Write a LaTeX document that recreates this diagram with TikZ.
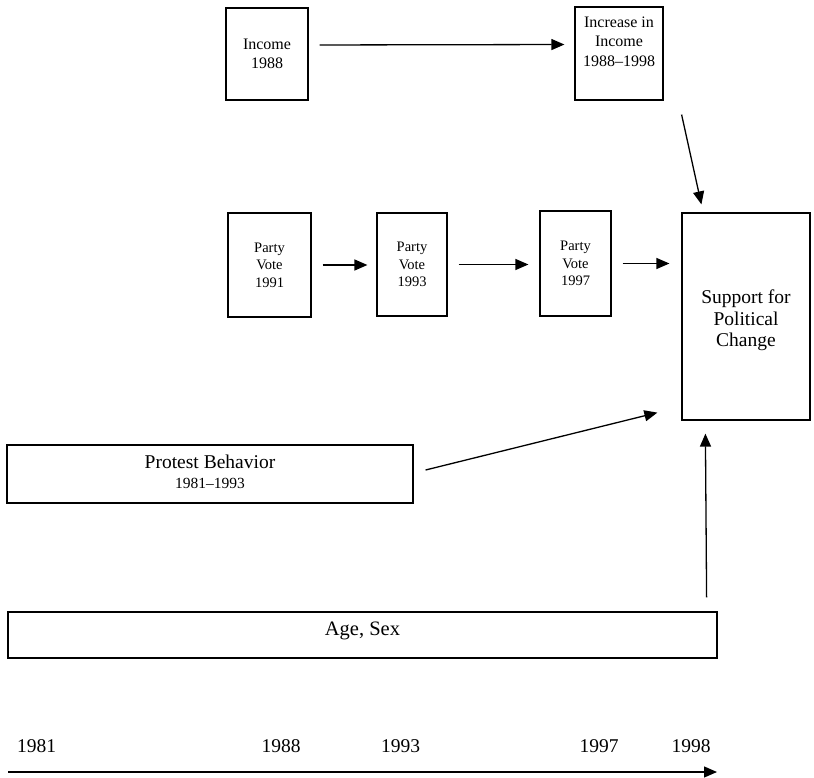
\documentclass[tikz,border=0pt]{standalone}
\usepackage{fontspec}
\setmainfont{Liberation Serif}
\usetikzlibrary{arrows.meta,calc}
\begin{document}
\begin{tikzpicture}[x=1pt,y=-1pt,
 box/.style={draw,line width=1.2pt,inner sep=0pt,align=center},
 conn/.style={line width=1.3pt,-{Triangle[length=13pt,width=11pt]}},
 smallfont/.style={font=\fontsize{16}{19.5}\selectfont},
 partyfont/.style={font=\fontsize{14.5}{17.5}\selectfont},
 bigfont/.style={font=\fontsize{19.5}{21.5}\selectfont},
 yearfont/.style={font=\fontsize{19.5}{21}\selectfont},
 ]
\useasboundingbox (0,0) rectangle (814,778);

\node[box,smallfont,minimum width=82pt,minimum height=92pt] (inc) at (267,54) {Income\\1988};
\node[box,smallfont,minimum width=88pt,minimum height=93pt] (incr) at (619,53.5)
  {Increase in\\Income\\1988--1998\rule[-24pt]{0pt}{24pt}};

\node[box,partyfont,minimum width=83pt,minimum height=104pt] (p1) at (269.5,265) {Party\\Vote\\1991};
\node[box,partyfont,minimum width=70pt,minimum height=103pt] (p2) at (412,264.5) {Party\\Vote\\1993};
\node[box,partyfont,minimum width=71pt,minimum height=105pt] (p3) at (575.5,263.5) {Party\\Vote\\1997};
\node[box,bigfont,minimum width=128pt,minimum height=207pt] (sup) at (746,316.5)
  {\rule{0pt}{22pt}Support for\\Political\\Change};

\node[box,minimum width=406pt,minimum height=58pt,font=\fontsize{19.5}{20.5}\selectfont] (prot) at (210,474)
  {Protest Behavior\\{\fontsize{15.5}{20.5}\selectfont 1981--1993}\rule[-5pt]{0pt}{5pt}};
\node[box,minimum width=709pt,minimum height=46pt,font=\fontsize{20.5}{24}\selectfont] (age) at (362.5,635)
  {Age, Sex\rule[-12pt]{0pt}{12pt}};

\node[yearfont] (y81) at (36.5,746) {1981};
\node[yearfont] (y88) at (281,746) {1988};
\node[yearfont] (y93) at (400.5,746) {1993};
\node[yearfont] (y97) at (599,746) {1997};
\node[yearfont] (y98) at (691,746) {1998};

\draw[conn,shorten <=11pt,shorten >=10pt] ([yshift=9pt]inc.east) -- ([yshift=9pt]incr.west);
\draw[conn] ($(incr.south east)+(18,14)$) -- ($(sup.north west)+(20,-8)$);
\draw[conn,shorten <=11pt,shorten >=9pt] (p1.east) -- (p1.east -| p2.west);
\draw[conn,shorten <=11pt,shorten >=11pt] (p2.east) -- (p2.east -| p3.west);
\draw[conn,shorten <=11pt,shorten >=12pt] (p3.east) -- (p3.east -| sup.west);
\draw[conn] ($(prot.east)+(12,-4)$) -- ($(sup.south west)+(-24,-8)$);
\draw[conn] ($(age.north east)+(-11,-14)$) -- ($(sup.south west)+(24,13)$);

\coordinate (t0) at (8,772);
\coordinate (t1) at (717,772);
\draw[conn] (t0) -- (t1);
\end{tikzpicture}
\end{document}
